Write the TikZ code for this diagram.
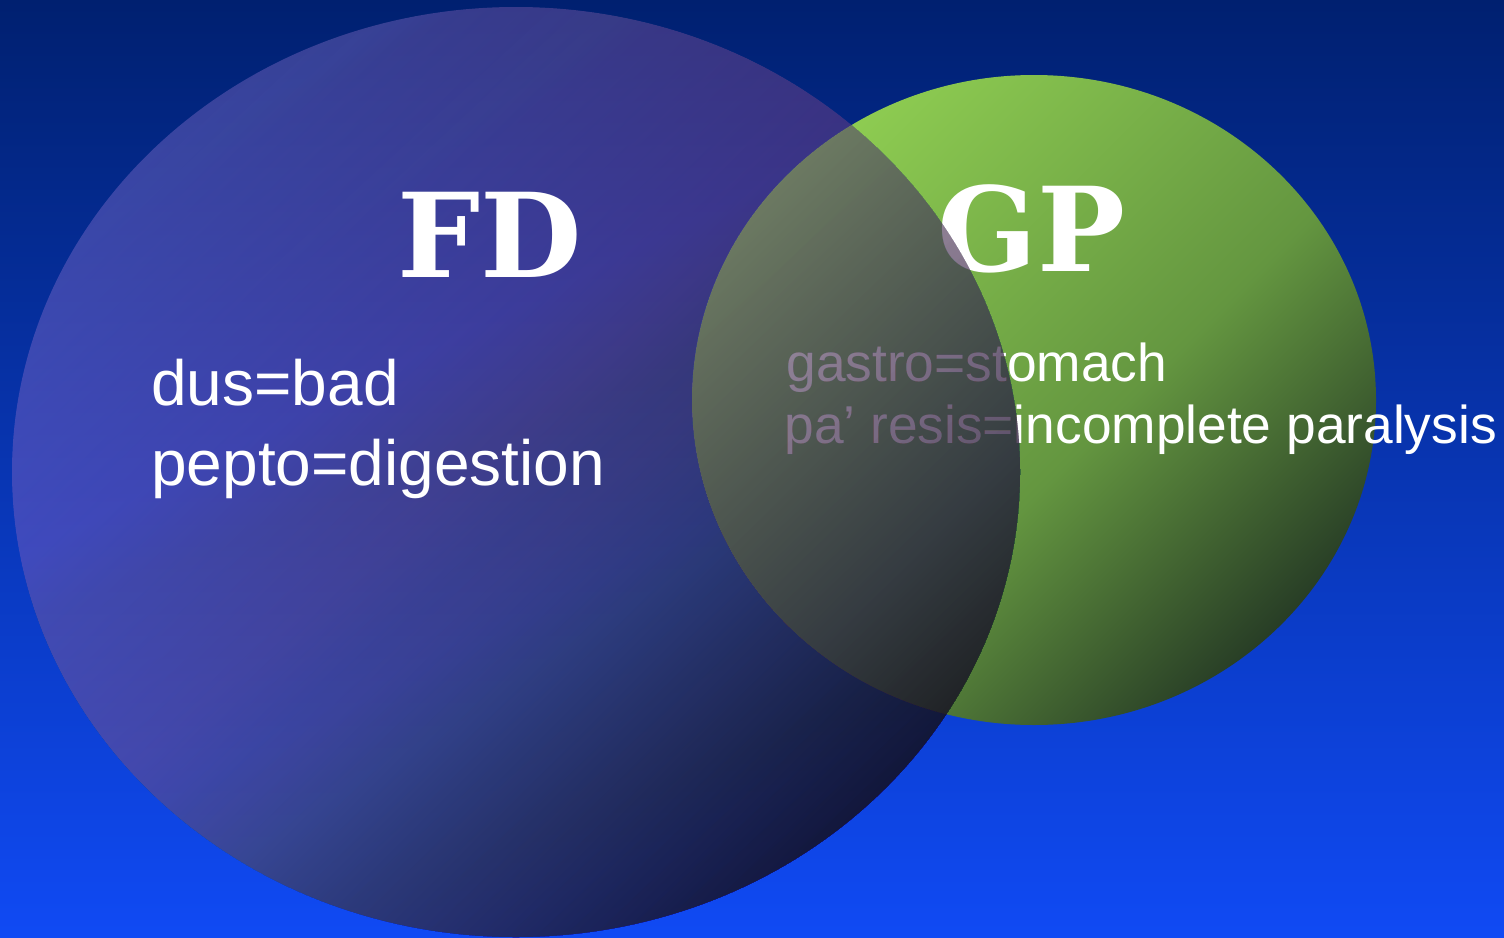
\documentclass[tikz,border=0pt]{standalone}
\usepackage{fontspec}
\setmainfont{Liberation Sans}
\newfontfamily\slabfont{DejaVu Serif}

\definecolor{bgtop}{RGB}{0,32,112}
\definecolor{bgbot}{RGB}{16,74,244}
\definecolor{bA}{RGB}{179,136,227}
\definecolor{bB}{RGB}{31,23,37}
\definecolor{gA}{RGB}{141,203,81}
\definecolor{gM}{RGB}{100,150,64}
\definecolor{gB}{RGB}{40,62,38}

\pgfdeclarehorizontalshading{blueshade}{100bp}{color(0bp)=(bA); color(25bp)=(bA); color(75bp)=(bB); color(100bp)=(bB)}
\pgfdeclarehorizontalshading{greenshade}{100bp}{color(0bp)=(gA); color(26bp)=(gA); color(55bp)=(gM); color(75bp)=(gB); color(100bp)=(gB)}

\begin{document}
\begin{tikzpicture}[x=0.5pt,y=-0.5pt,
  bodytxt/.style={text=white, inner sep=0pt, anchor=base west, font=\fontsize{32pt}{38pt}\selectfont},
  smalltxt/.style={text=white, inner sep=0pt, anchor=base west, font=\fontsize{26.65pt}{32pt}\selectfont},
  bigtxt/.style={text=white, inner sep=0pt, anchor=base west, font=\slabfont\bfseries\fontsize{58.5pt}{60pt}\selectfont},
  blueellipse/.style={shading=blueshade, shading angle=-45}]
\useasboundingbox (0,0) rectangle (1504,937);
\shade[top color=bgtop, bottom color=bgbot] (0,0) rectangle (1504,937);
% green ellipse
\shade[shading=greenshade, shading angle=-45] (1034,400) ellipse [x radius=171pt, y radius=162.5pt];
\node[bigtxt] (gp) at (937,271) {GP};
\node[smalltxt] (gastro) at (786,381) {gastro=stomach};
\node[smalltxt] (paresis) at (784,443) {pa’ resis=incomplete paralysis};
% blue ellipse: translucent, opacity growing towards the lower right
\shade[blueellipse, fill opacity=0.308] (516,472) ellipse [x radius=252pt, y radius=232.5pt];
\foreach \k in {1,...,50} {
  \pgfmathsetmacro\tk{0.15+0.014*(\k-0.5)}
  \pgfmathsetmacro\Ak{0.4+0.768*(0.15+0.014*\k-0.27)}
  \pgfmathsetmacro\Ap{0.4+0.768*(0.15+0.014*(\k-1)-0.27)}
  \pgfmathsetmacro\dk{1-(1-\Ak)/(1-\Ap)}
  \begin{scope}
    \clip ({12+1008*(2*\tk+2)},{7-1860}) -- ({12+1008*(2*\tk-2)},{7+1860}) -- ({12+1008*(2*\tk+2)},{7+1860}) -- cycle;
    \shade[blueellipse, fill opacity=\dk] (516,472) ellipse [x radius=252pt, y radius=232.5pt];
  \end{scope}
}
\node[bigtxt] (fd) at (397,277) {FD};
\node[bodytxt] (dus) at (151,405) {dus=bad};
\node[bodytxt] (pepto) at (151,485) {pepto=digestion};
\end{tikzpicture}
\end{document}
